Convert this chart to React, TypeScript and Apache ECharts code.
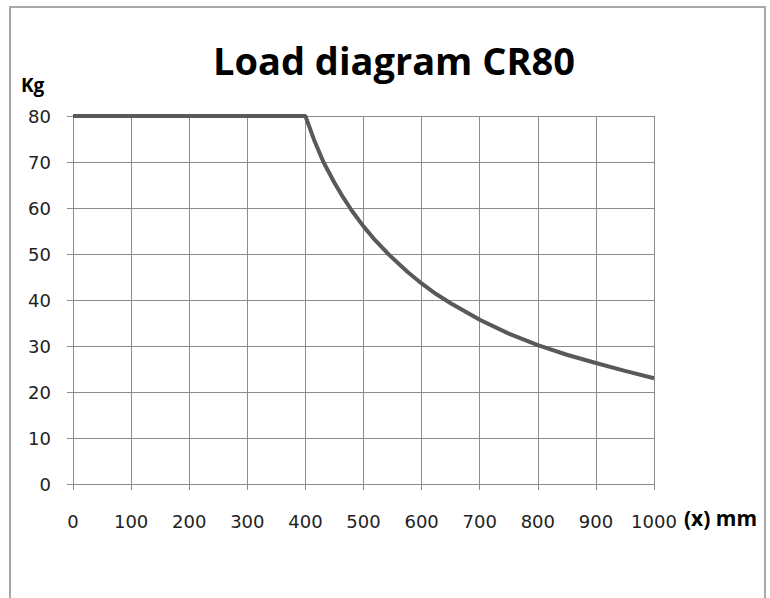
import React, { useEffect, useRef } from "react";
import * as echarts from "echarts";

const titleText = "Load diagram CR80";
const yUnit = "Kg";
const xUnit = "(x) mm";
const reachMm = [0, 100, 200, 300, 400, 415, 431, 450, 465, 480, 500, 520, 545, 575, 600, 625, 650, 700, 750, 800, 850, 900, 950, 1000];
const loadKg = [80, 80, 80, 80, 80, 74.8, 70, 65.5, 62.3, 59.4, 56, 53, 49.7, 46.2, 43.6, 41.3, 39.3, 35.7, 32.7, 30.2, 28.1, 26.3, 24.6, 23];

export default function App() {
  const ref = useRef<HTMLDivElement>(null);
  useEffect(() => {
    if (!ref.current) return;
    const chart = echarts.init(ref.current, undefined, { renderer: "svg" });
    const data = reachMm.map((x, i) => [x, loadKg[i]]);
    chart.setOption({
      animation: false,
      backgroundColor: "#ffffff",
      title: {
        text: titleText,
        left: 389,
        textAlign: "center",
        top: 36,
        textStyle: { fontFamily: "Open Sans", fontWeight: "bold", fontSize: 38, color: "#000" },
      },
      grid: { left: 73, right: 116, top: 116, bottom: 114, containLabel: false },
      xAxis: {
        type: "value",
        min: 0,
        max: 1000,
        interval: 100,
        axisLine: { show: true, lineStyle: { color: "#8c8c8c", width: 1 } },
        axisTick: { show: true, length: 6, lineStyle: { color: "#8c8c8c" } },
        splitLine: { show: true, lineStyle: { color: "#8c8c8c", width: 1 } },
        axisLabel: {
          margin: 28,
          fontFamily: "DejaVu Sans",
          fontSize: 18,
          color: "#222",
          formatter: (v: number) => String(v),
        },
      },
      yAxis: {
        type: "value",
        min: 0,
        max: 80,
        interval: 10,
        axisLine: { show: true, lineStyle: { color: "#8c8c8c", width: 1 } },
        axisTick: { show: true, length: 6, lineStyle: { color: "#8c8c8c" } },
        splitLine: { show: true, lineStyle: { color: "#8c8c8c", width: 1 } },
        axisLabel: { margin: 22, fontFamily: "DejaVu Sans", fontSize: 18, color: "#222" },
      },
      graphic: [
        {
          type: "rect",
          shape: { x: 10, y: 7, width: 755, height: 650 },
          style: { fill: "none", stroke: "#a8a8a8", lineWidth: 2 },
          silent: true,
        },
        {
          type: "text",
          x: 21,
          y: 75,
          style: { text: yUnit, fontFamily: "Open Sans", fontWeight: "bold", fontSize: 19, fill: "#000" },
        },
        {
          type: "text",
          x: 684,
          y: 507,
          style: { text: xUnit, fontFamily: "Open Sans", fontWeight: "bold", fontSize: 21, fill: "#000" },
        },
      ],
      series: [
        {
          type: "line",
          data,
          showSymbol: false,
          smooth: false,
          lineStyle: { color: "#595959", width: 4 },
        },
      ],
    });
    return () => chart.dispose();
  }, []);
  return <div ref={ref} style={{ position: "fixed", left: 0, top: 0, width: 770, height: 598 }} />;
}
